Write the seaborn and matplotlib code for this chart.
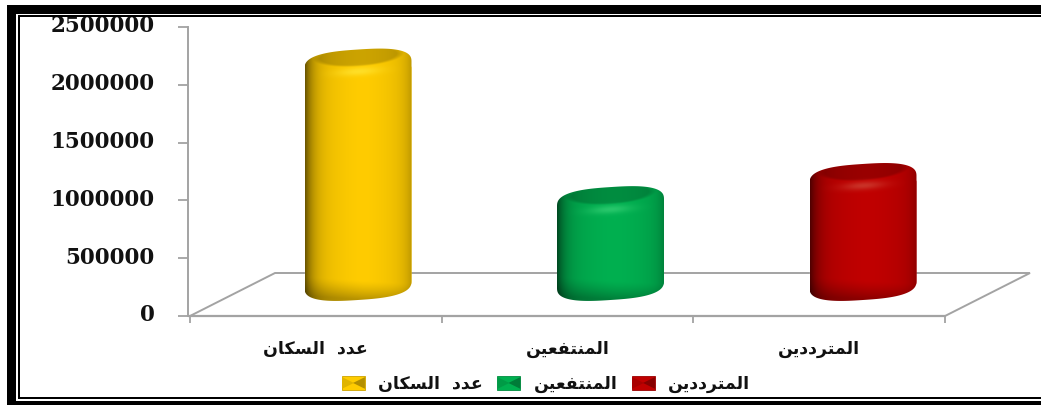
import numpy as np
import pandas as pd
import seaborn as sns
import matplotlib
matplotlib.use("Agg")
import matplotlib.pyplot as plt
from matplotlib.colors import to_rgb
from matplotlib.legend_handler import HandlerBase
from matplotlib.patches import Patch, PathPatch, Polygon, Rectangle
from matplotlib.path import Path
from matplotlib.transforms import Affine2D, ScaledTranslation

# Population survey figures
categories = ["عدد السكان", "المنتفعين", "المترددين"]
values = [1890000, 700000, 900000]
colors = ["#FFCC00", "#00B050", "#C00000"]
y_ticks = [0, 500000, 1000000, 1500000, 2000000, 2500000]

# Contextual glyph forms: isolated, final, initial, medial
FORMS = {
    "ا": (0xFE8D, 0xFE8E, None, None), "د": (0xFEA9, 0xFEAA, None, None),
    "ر": (0xFEAD, 0xFEAE, None, None), "ل": (0xFEDD, 0xFEDE, 0xFEDF, 0xFEE0),
    "س": (0xFEB1, 0xFEB2, 0xFEB3, 0xFEB4), "ك": (0xFED9, 0xFEDA, 0xFEDB, 0xFEDC),
    "ن": (0xFEE5, 0xFEE6, 0xFEE7, 0xFEE8), "ع": (0xFEC9, 0xFECA, 0xFECB, 0xFECC),
    "م": (0xFEE1, 0xFEE2, 0xFEE3, 0xFEE4), "ت": (0xFE95, 0xFE96, 0xFE97, 0xFE98),
    "ف": (0xFED1, 0xFED2, 0xFED3, 0xFED4), "ي": (0xFEF1, 0xFEF2, 0xFEF3, 0xFEF4),
}


def shape(text):
    """Join Arabic letters and lay them out for a left-to-right text engine."""
    out = []
    for i, ch in enumerate(text):
        if ch not in FORMS:
            out.append(" " + ch)
            continue
        prev = text[i - 1] if i else ""
        nxt = text[i + 1] if i + 1 < len(text) else ""
        joins_prev = prev in FORMS and FORMS[prev][2] is not None
        joins_next = nxt in FORMS and FORMS[ch][2] is not None
        idx = (3 if joins_next else 1) if joins_prev else (2 if joins_next else 0)
        out.append(chr(FORMS[ch][idx]))
    return "".join(reversed(out))


W, H = 1041, 405
sns.set_theme(style="white")
plt.rcParams["font.family"] = ["DejaVu Sans"]
fig = plt.figure(figsize=(W / 100, H / 100), dpi=100, facecolor="white")

# Plot area in pixels, measured from the top-left corner
AX_L, AX_R, AX_T, AX_B = 188, 1030, 27, 316
ax = fig.add_axes([AX_L / W, 1 - AX_B / H, (AX_R - AX_L) / W, (AX_B - AX_T) / H])

STEP = 252.5
FIRST = 358
DEPTH_X_PX, DEPTH_Y_PX = 85, 43
BASE_PX = 32  # cylinders stand partway into the floor
PX_Y = 2500000 / (AX_B - AX_T)
base = BASE_PX * PX_Y

df = pd.DataFrame({"category": categories, "value": values})
sns.barplot(data=df, x="category", y="value", hue="category", palette=colors,
            hue_order=categories, order=categories, width=107 / STEP, bottom=base,
            errorbar=None, legend=False, saturation=1, ax=ax, zorder=3)

xmin, xmax = (AX_L - FIRST) / STEP, (AX_R - FIRST) / STEP
ax.set_xlim(xmin, xmax)
ax.set_ylim(0, 2500000)
ax.patch.set_alpha(0)
ax.set_xlabel("")
ax.set_ylabel("")
for name in ("top", "right", "bottom"):
    ax.spines[name].set_visible(False)
GREY = "#A3A3A3"
ax.spines["left"].set_color(GREY)
ax.spines["left"].set_linewidth(1.4)

# Floor of the 3D box
dx, dy = DEPTH_X_PX / STEP, DEPTH_Y_PX * PX_Y
front_l, front_r = (190 - FIRST) / STEP, (945 - FIRST) / STEP
floor = Polygon([(front_l, 0), (front_r, 0), (front_r + dx, dy), (front_l + dx, dy)],
                closed=True, fill=False, ec=GREY, lw=1.4, zorder=1, clip_on=False)
ax.add_patch(floor)
ax.plot([xmin, front_r], [0, 0], color=GREY, lw=1.6, zorder=1, clip_on=False)

# Axis ticks: boundaries on x, category names centred on the front of each slot
edges = [front_l + i * (front_r - front_l) / 3 for i in range(4)]
ax.set_xticks(edges)
ax.set_xticklabels([])
ax.set_xticks([e + (front_r - front_l) / 6 for e in edges[:3]], minor=True)
ax.set_xticklabels([shape(c) for c in categories], minor=True,
                    fontsize=12.5, fontweight="bold", color="#111111")
ax.tick_params(axis="x", which="major", length=5, width=1.3, color=GREY, bottom=True)
ax.tick_params(axis="x", which="minor", length=0, pad=17)
ax.set_yticks(y_ticks)
ax.set_yticklabels([str(v) for v in y_ticks], family="DejaVu Serif", fontweight="bold",
                   fontsize=15.5, color="#111111")
ax.tick_params(axis="y", length=7, width=1.3, color=GREY, left=True, pad=17)
lift = ScaledTranslation(0, 0.5 / 72, fig.dpi_scale_trans)
for lab in ax.get_yticklabels():
    lab.set_verticalalignment("center")
    lab.set_transform(lab.get_transform() + lift)

# Cylinder shading, built from each bar's own extent
CAP_PX, TILT_PX = 16, 3.5
ROUND = 0.72  # below 1 the end caps get fuller shoulders
RES = 2

for patch, col in zip(ax.patches, colors):
    x0 = patch.get_x()
    width = patch.get_width()
    y_low = patch.get_y()
    y_top = y_low + patch.get_height()
    cx = x0 + width / 2
    cap, tilt = CAP_PX * PX_Y, TILT_PX * PX_Y

    # silhouette: upper arc of the top cap, lower arc of the base cap
    t = np.linspace(0, np.pi, 120)
    u = np.sign(np.cos(t)) * np.abs(np.cos(t)) ** ROUND
    v = np.sin(t) ** ROUND
    top_x = cx + width / 2 * u
    top_y = y_top + cap * v + tilt * u
    low_x = cx - width / 2 * u
    low_y = y_low - cap * v - tilt * u
    verts = np.column_stack([np.r_[top_x, low_x], np.r_[top_y, low_y]])
    outline = PathPatch(Path(np.vstack([verts, verts[0]]), closed=True),
                        transform=ax.transData, fc="none", ec="none")
    ax.add_patch(outline)
    patch.set_clip_path(outline)

    # raster of the lit surface, in pixel steps
    y_hi = y_top + cap + tilt
    y_lo = y_low - cap - tilt
    nx = int(width * STEP) * RES
    ny = int((y_hi - y_lo) / PX_Y) * RES
    X, Y = np.meshgrid(np.linspace(-1, 1, nx), np.linspace(y_hi, y_lo, ny))
    ring = (Y - y_top - tilt * X) / cap  # position relative to the top cap

    # smooth falloff from the light axis towards both edges
    off = np.abs(X - 0.08)
    shade = 1 - 0.13 * off ** 1.6 - 0.26 * off ** 7

    inner = (X / 0.80) ** 2 + ((ring - 0.55) / 0.62) ** 2
    dark = np.clip((1.15 - inner) / 0.35, 0, 1)
    shade = shade * (1 - 0.2 * dark)
    glow = np.exp(-((ring + 0.42) / 0.26) ** 2) * np.exp(-(X / 0.40) ** 2)
    low_ring = (Y - y_low + tilt * X) / cap
    shade = shade * (1 - 0.22 * np.clip(-low_ring + 0.2, 0, 1.2) ** 1.3)

    rgb = np.array(to_rgb(col))
    img = np.clip(shade[..., None] * rgb, 0, 1)
    lit = np.clip(rgb + 0.22 * (1 - rgb) + np.array([0.0, 0.06, 0.0]), 0, 1)
    img = img * (1 - 0.7 * glow[..., None]) + lit * 0.7 * glow[..., None]
    im = ax.imshow(img, extent=(x0, x0 + width, y_lo, y_hi), aspect="auto",
                   interpolation="bilinear", zorder=4)
    im.set_clip_path(outline)

ax.set_xlim(xmin, xmax)
ax.set_ylim(0, 2500000)


class EnvelopeHandler(HandlerBase):
    """Legend swatch shaded like a folded envelope."""

    def create_artists(self, legend, orig, xd, yd, w, h, fontsize, trans):
        col = np.array(to_rgb(orig.get_facecolor()))
        x, y = -xd, -yd
        rect = Rectangle((x, y), w, h, fc=col, ec=col * 0.8, lw=0.6, transform=trans)
        left = Polygon([(x, y + h * 0.1), (x, y + h * 0.9), (x + w * 0.52, y + h * 0.5)],
                       fc=col * 0.88, ec="none", transform=trans)
        right = Polygon([(x + w, y + h * 0.1), (x + w, y + h * 0.9), (x + w * 0.48, y + h * 0.5)],
                        fc=col * 0.7, ec="none", transform=trans)
        return [rect, left, right]


handles = [Patch(facecolor=c) for c in colors]
leg = fig.legend(handles, [shape(c) for c in categories], ncol=3,
                 handler_map={Patch: EnvelopeHandler()},
                 loc="center left", bbox_to_anchor=(342 / W, 1 - 384 / H),
                 frameon=False, handlelength=1.32, handleheight=0.92, handletextpad=0.75,
                 columnspacing=0.85, borderpad=0, borderaxespad=0,
                 prop={"size": 12.5, "weight": "bold"})
for txt in leg.get_texts():
    txt.set_color("#111111")

# Double black frame, open on the right-hand side
px = Affine2D().scale(1, -1).translate(0, H)
for (l, t, w, h) in [(7, 5, W - 7, 8.6), (7, 5, 9, H - 5), (7, 400.5, W - 7, 4.5),
                     (18, 15, W - 18, 2), (18, 15, 2, 384), (18, 397, W - 18, 2)]:
    fig.add_artist(Rectangle((l, t), w, h, fc="black", ec="none", transform=px, zorder=10))

fig.savefig("out.png", dpi=100)
